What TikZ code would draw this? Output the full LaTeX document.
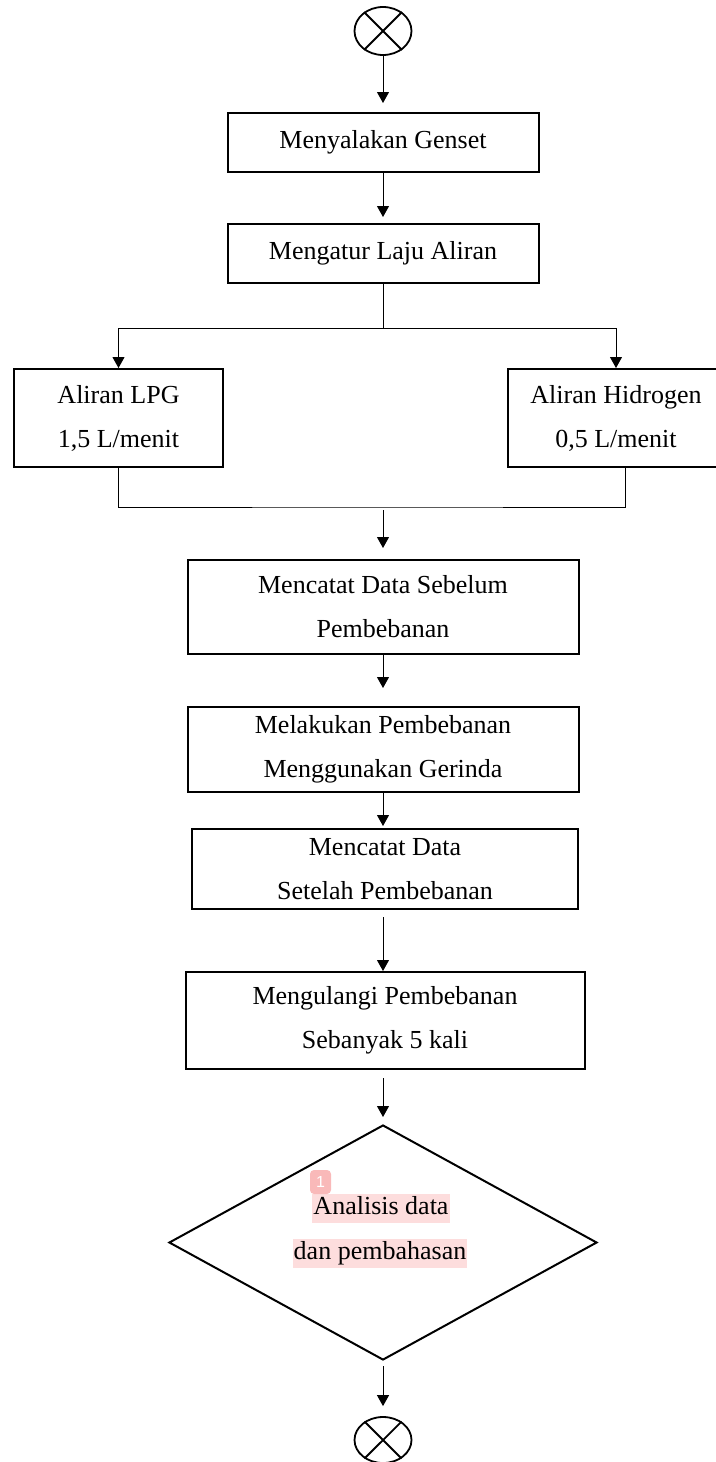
\documentclass[tikz,border=0pt]{standalone}
\usepackage{fontspec}
\setmainfont{Liberation Serif}
\newfontfamily\badgefont{Liberation Sans}
\usepackage{tikz}
\usetikzlibrary{shapes.geometric,arrows.meta}

\definecolor{markpink}{RGB}{253,221,221}
\definecolor{badgepink}{RGB}{249,185,185}

\tikzset{
  box/.style={draw, line width=1pt, inner sep=0pt, align=center, font=\fontsize{13}{22}\selectfont},
  flow/.style={line width=0.5pt, -{Triangle[length=5.5pt,width=6pt]}},
  link/.style={line width=0.5pt},
  term/.style={draw, ellipse, line width=0.9pt, inner sep=0pt, minimum width=28.5pt, minimum height=24pt},
  marked/.style={fill=markpink, inner xsep=0.5pt, inner ysep=0pt, minimum height=14.5pt, text height=9pt, text depth=2.8pt, font=\fontsize{13}{22}\selectfont}
}

\begin{document}
\begin{tikzpicture}[x=0.5pt,y=-0.5pt]
    \useasboundingbox (0,0) rectangle (716,1462);

    % draw start symbol
    \node[term] (start) at (383,31) {};
    \draw[line width=0.9pt] (start.45) -- (start.225) (start.135) -- (start.315);

    % draw process boxes
    \node[box, minimum width=155.5pt, minimum height=29.5pt] (genset) at (383,142.5) {Menyalakan Genset};
    \node[box, minimum width=155.5pt, minimum height=29.5pt] (laju) at (383,253.5) {Mengatur Laju Aliran};
    \node[box, minimum width=104.5pt, minimum height=49pt] (lpg) at (118.5,418) {Aliran LPG\\1,5 L/menit};
    \node[box, minimum width=108pt, minimum height=49pt] (hidro) at (616,418) {Aliran Hidrogen\\0,5 L/menit};
    \node[box, minimum width=195.5pt, minimum height=47pt] (sebelum) at (383,607) {Mencatat Data Sebelum\\Pembebanan};
    \node[box, minimum width=195.5pt, minimum height=42.5pt] (beban) at (383,749.5) {Melakukan Pembebanan\\Menggunakan Gerinda};
    \node[box, minimum width=193pt, minimum height=40pt] (setelah) at (385,869) {Mencatat Data\\Setelah Pembebanan};
    \node[box, minimum width=199.5pt, minimum height=48.5pt] (ulang) at (385,1020.5) {Mengulangi Pembebanan\\Sebanyak 5 kali};

    % draw decision
    \node[draw, diamond, line width=1pt, inner sep=0pt, minimum width=214pt, minimum height=117.5pt] (analisis) at (383,1242.5) {};
    \node[marked] (ana1) at (381,1208.5) {Analisis data};
    \node[marked] (ana2) at (380,1253.5) {dan pembahasan};
    \node[fill=badgepink, rounded corners=2pt, minimum width=10.5pt, minimum height=12pt, inner sep=0pt, text=white, font=\badgefont\fontsize{8}{9}\selectfont] (note) at (320.5,1182) {1};

    % draw end symbol
    \node[term, minimum height=23pt] (stop) at (383,1440) {};
    \draw[line width=0.9pt] (stop.45) -- (stop.225) (stop.135) -- (stop.315);

    % draw connectors
    \coordinate (split) at (383,328);
    \coordinate (merge) at (383,507);
    \draw[flow, shorten >=4.5pt] (start) -- (genset);
    \draw[flow, shorten >=3pt] (genset) -- (laju);
    \draw[link] (laju) -- (split);
    \draw[flow] (split) -| (lpg.north);
    \draw[flow] (split) -| (hidro.north);
    \draw[link] (lpg.south) |- (merge) -| ([xshift=4.5pt]hidro.south);
    \draw[flow, shorten <=1.5pt, shorten >=5.5pt] (merge) -- (sebelum);
    \draw[flow, shorten >=9pt] (sebelum) -- (sebelum.south |- beban.north);
    \draw[flow, shorten >=1pt] (beban) -- (beban.south |- setelah.north);
    \draw[flow, shorten <=3.5pt] (beban.south |- setelah.south) -- (beban.south |- ulang.north);
    \draw[flow, shorten <=4pt, shorten >=3.5pt] (beban.south |- ulang.south) -- (analisis);
    \draw[flow, shorten <=2.5pt, shorten >=5pt] (analisis) -- (stop);

\end{tikzpicture}
\end{document}
